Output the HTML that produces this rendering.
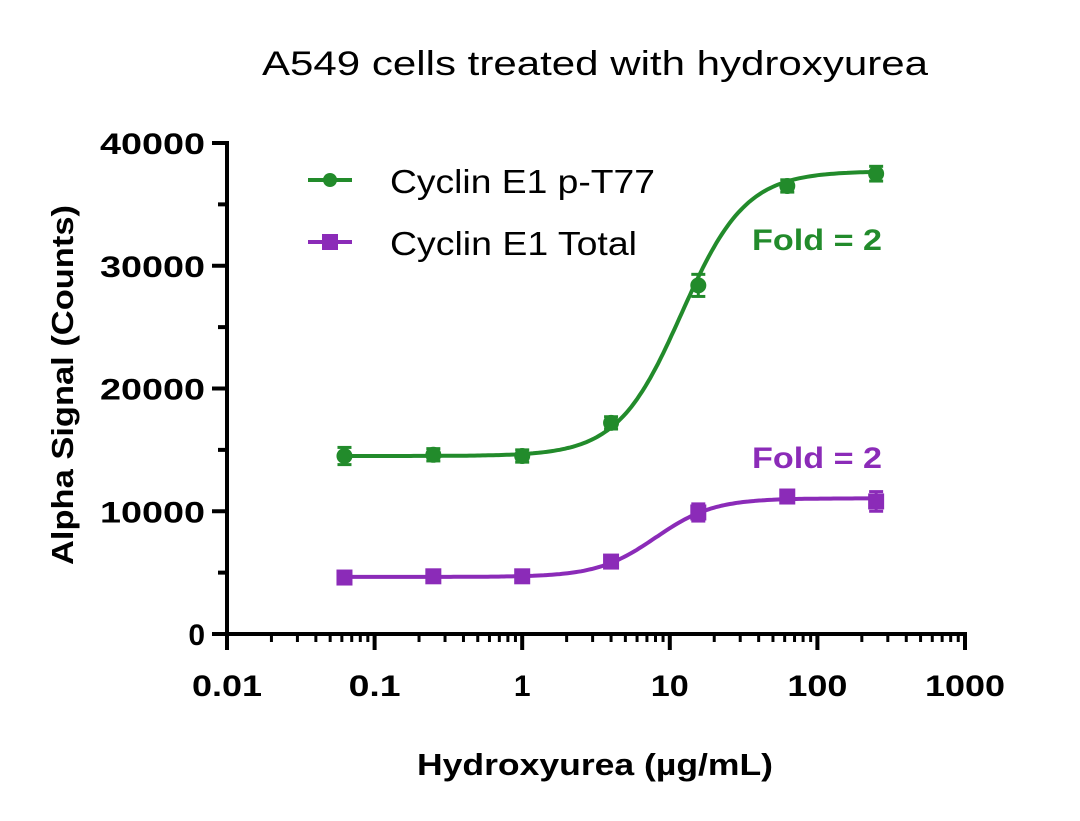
<!DOCTYPE html>
<html><head><meta charset="utf-8"><style>
html,body{margin:0;padding:0;background:#fff;}
svg{display:block;font-family:"Liberation Sans",sans-serif;}
</style></head><body>
<svg id="s" width="1080" height="821" viewBox="0 0 1080 821" xmlns="http://www.w3.org/2000/svg">
<rect width="1080" height="821" fill="#fff"/>
<text x="262" y="75" font-size="34" textLength="666" lengthAdjust="spacingAndGlyphs" fill="#000">A549 cells treated with hydroxyurea</text>
<text x="417" y="775" font-size="31" font-weight="bold" textLength="356" lengthAdjust="spacingAndGlyphs" fill="#000">Hydroxyurea (µg/mL)</text>
<text transform="translate(73,565) rotate(-90)" font-size="31" font-weight="bold" textLength="360" lengthAdjust="spacingAndGlyphs" fill="#000">Alpha Signal (Counts)</text>
<g id="axes" stroke="#000" stroke-width="4" fill="none"></g>
<g id="lbl" font-size="30" font-weight="bold" fill="#000"></g>
<g id="data"></g>
<line x1="308" y1="180" x2="352" y2="180" stroke="#228B2B" stroke-width="4"/>
<circle cx="330" cy="180" r="7" fill="#228B2B"/>
<line x1="308" y1="242" x2="352" y2="242" stroke="#8B2BB8" stroke-width="4"/>
<rect x="322" y="234" width="16" height="16" fill="#8B2BB8"/>
<text x="390" y="193" font-size="33" textLength="265" lengthAdjust="spacingAndGlyphs" fill="#000">Cyclin E1 p-T77</text>
<text x="390" y="255" font-size="33" textLength="247" lengthAdjust="spacingAndGlyphs" fill="#000">Cyclin E1 Total</text>
<text x="752" y="250" font-size="30" font-weight="bold" fill="#228B2B" textLength="130" lengthAdjust="spacingAndGlyphs">Fold = 2</text>
<text x="752" y="468" font-size="30" font-weight="bold" fill="#8B2BB8" textLength="130" lengthAdjust="spacingAndGlyphs">Fold = 2</text>
</svg>
<script>
var NS="http://www.w3.org/2000/svg";
function el(p,t,a){var e=document.createElementNS(NS,t);for(var k in a)e.setAttribute(k,a[k]);p.appendChild(e);return e;}
var X0=227,DEC=147.6,Y0=634,YS=491/40000;
function px(v){return X0+(Math.log10(v)+2)*DEC;}
function py(v){return Y0-v*YS;}
var ax=document.getElementById('axes'),lb=document.getElementById('lbl');
el(ax,'line',{x1:227,y1:141,x2:227,y2:636});
el(ax,'line',{x1:225,y1:634,x2:967,y2:634});
for(var v=0;v<=40000;v+=5000){var y=py(v);var major=v%10000==0;el(ax,'line',{x1:major?212:218,y1:y,x2:227,y2:y});
 if(major){var s=String(v);var a={x:205,y:y+11,'text-anchor':'end'};if(s.length>1){a.textLength=s.length*21;a.lengthAdjust='spacingAndGlyphs';}var t=el(lb,'text',a);t.textContent=s;}}
var labs=["0.01","0.1","1","10","100","1000"];
var lw=[70,52,0,38,60,80];
for(var d=0;d<=5;d++){var x=X0+d*DEC;el(ax,'line',{x1:x,y1:634,x2:x,y2:650});
 var a=lw[d]?{x:x-lw[d]/2,y:696,textLength:lw[d],lengthAdjust:'spacingAndGlyphs'}:{x:x,y:696,'text-anchor':'middle'};
 var t=el(lb,'text',a);t.textContent=labs[d];
 if(d<5)for(var m=2;m<=9;m++){var xx=x+Math.log10(m)*DEC;el(ax,'line',{x1:xx,y1:634,x2:xx,y2:642,'stroke-width':3});}}
var dg=document.getElementById('data');
var xs=[0.0625,0.25,1,4,15.6,62.5,250];
function curve(b,tp,ec,h,col){var d="";for(var i=0;i<=200;i++){var lx=Math.log10(0.0625)+i*(Math.log10(250)-Math.log10(0.0625))/200;
 var v=b+(tp-b)/(1+Math.pow(10,h*(Math.log10(ec)-lx)));d+=(i?"L":"M")+(X0+(lx+2)*DEC).toFixed(1)+" "+py(v).toFixed(1);}
 el(dg,'path',{d:d,stroke:col,'stroke-width':4,fill:'none'});}
curve(14500,37700,12,2,"#228B2B");
curve(4650,11050,8,2.2,"#8B2BB8");
var g=[14500,14600,14500,17200,28400,36500,37500],ge=[700,500,500,500,900,500,600];
var p=[4600,4700,4700,5900,9900,11200,10800],pe=[300,300,300,300,700,300,800];
function pts(vals,errs,col,sq){for(var i=0;i<7;i++){var x=px(xs[i]),y=py(vals[i]),e=errs[i]*YS;
 el(dg,'line',{x1:x,y1:y-e,x2:x,y2:y+e,stroke:col,'stroke-width':3});
 el(dg,'line',{x1:x-7,y1:y-e,x2:x+7,y2:y-e,stroke:col,'stroke-width':3});
 el(dg,'line',{x1:x-7,y1:y+e,x2:x+7,y2:y+e,stroke:col,'stroke-width':3});
 if(sq)el(dg,'rect',{x:x-8,y:y-8,width:16,height:16,fill:col});else el(dg,'circle',{cx:x,cy:y,r:8,fill:col});}}
pts(g,ge,"#228B2B",false);pts(p,pe,"#8B2BB8",true);
</script>
</body></html>
